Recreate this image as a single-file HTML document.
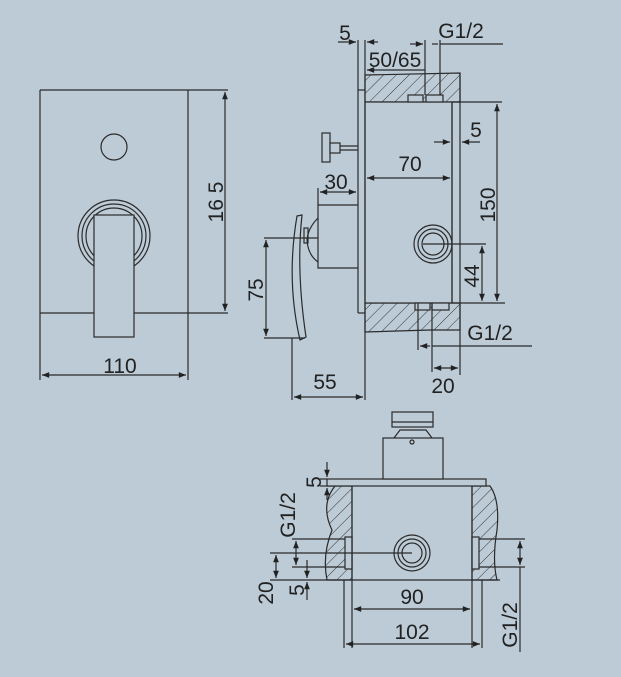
<!DOCTYPE html>
<html><head><meta charset="utf-8"><style>
html,body{margin:0;padding:0;background:#bccbd6;}
svg{display:block}
text{font-family:"Liberation Sans Narrow","Liberation Sans",sans-serif;font-size:21px;fill:#222;}
</style></head><body>
<svg width="621" height="677" viewBox="0 0 621 677" xmlns="http://www.w3.org/2000/svg">
<defs>
<marker id="a" viewBox="0 0 10 10" refX="10" refY="5" markerWidth="8" markerHeight="6" orient="auto-start-reverse"><path d="M0,1 L10,5 L0,9 z" fill="#222"/></marker>
<pattern id="h" width="9" height="9" patternUnits="userSpaceOnUse" patternTransform="rotate(45)"><line x1="0" y1="0" x2="0" y2="9" stroke="#333" stroke-width="1"/></pattern>
</defs>
<rect width="621" height="677" fill="#bccbd6"/>
<g fill="none" stroke="#2a2a2a" stroke-width="1.2">
<line x1="40" y1="90" x2="40" y2="380"/>
<line x1="188" y1="90" x2="188" y2="380"/>
<line x1="40" y1="90" x2="228" y2="90"/>
<line x1="40" y1="313" x2="94" y2="313"/>
<line x1="134" y1="313" x2="228" y2="313"/>
<circle cx="114" cy="147" r="13"/>
<circle cx="114" cy="236" r="36"/>
<circle cx="114" cy="236" r="32"/>
<circle cx="114" cy="236" r="28"/>
<rect x="94" y="215" width="40" height="122" fill="#bccbd6"/>
<line x1="225" y1="92" x2="225" y2="311" marker-start="url(#a)" marker-end="url(#a)"/>
<line x1="42" y1="375" x2="186" y2="375" marker-start="url(#a)" marker-end="url(#a)"/>

<path d="M365,75 L460,73 L460,102 L365,102 Z" fill="url(#h)"/>
<path d="M365,303 L460,303 L460,330 L430,330 L365,332 Z" fill="url(#h)"/>
<rect x="365" y="102" width="87" height="201" fill="#bccbd6"/>
<rect x="408" y="95" width="15" height="7" fill="#bccbd6"/>
<rect x="426" y="95" width="17" height="7" fill="#bccbd6"/>
<rect x="415" y="303" width="15" height="7" fill="#bccbd6"/>
<rect x="432" y="303" width="17" height="7" fill="#bccbd6"/>
<line x1="358" y1="40" x2="358" y2="313"/>
<line x1="365" y1="40" x2="365" y2="400"/>
<line x1="358" y1="313" x2="365" y2="313"/>
<line x1="358" y1="90" x2="365" y2="90"/>
<line x1="452" y1="102" x2="502" y2="102"/>
<line x1="452" y1="303" x2="505" y2="303"/>
<line x1="460" y1="73" x2="460" y2="375"/>
<line x1="452" y1="102" x2="452" y2="303"/>
<circle cx="433" cy="244" r="19"/>
<circle cx="433" cy="244" r="15"/>
<circle cx="433" cy="244" r="11"/>
<line x1="423" y1="244" x2="486" y2="244"/>
<line x1="497" y1="104" x2="497" y2="301" marker-start="url(#a)" marker-end="url(#a)"/>
<line x1="482" y1="246" x2="482" y2="301" marker-start="url(#a)" marker-end="url(#a)"/>
<line x1="367" y1="178" x2="450" y2="178" marker-start="url(#a)" marker-end="url(#a)"/>
<line x1="434" y1="142" x2="450" y2="142" marker-end="url(#a)"/>
<line x1="480" y1="142" x2="462" y2="142" marker-end="url(#a)"/>
<line x1="338" y1="42" x2="356" y2="42" marker-end="url(#a)"/>
<line x1="378" y1="42" x2="367" y2="42" marker-end="url(#a)"/>
<line x1="367" y1="70" x2="425" y2="70" marker-start="url(#a)"/>
<line x1="425" y1="40" x2="425" y2="95"/>
<line x1="440" y1="40" x2="440" y2="95"/>
<line x1="410" y1="44" x2="423" y2="44" marker-end="url(#a)"/>
<line x1="440" y1="44" x2="503" y2="44"/>
<line x1="432" y1="44" x2="438" y2="44"/>
<rect x="322" y="133" width="8" height="29" fill="#bccbd6"/>
<rect x="330" y="143" width="10" height="10" fill="#bccbd6"/>
<line x1="340" y1="146" x2="358" y2="146"/>
<line x1="340" y1="150" x2="358" y2="150"/>
<path d="M358,205 L318,205 L318,268 L358,268"/>
<path d="M318,218 Q308,228 307,240 Q308,255 318,262"/>
<rect x="304" y="228" width="4" height="15"/>
<line x1="320" y1="192" x2="356" y2="192" marker-start="url(#a)" marker-end="url(#a)"/>
<line x1="318" y1="188" x2="318" y2="205"/>
<path d="M297,216 L302,215 Q296,270 306,337 L300,340 Q286,280 297,216 Z" fill="#bccbd6"/>
<line x1="264" y1="238" x2="318" y2="238"/>
<line x1="264" y1="338" x2="305" y2="338"/>
<line x1="266" y1="240" x2="266" y2="336" marker-start="url(#a)" marker-end="url(#a)"/>
<line x1="292" y1="338" x2="292" y2="400"/>
<line x1="294" y1="397" x2="363" y2="397" marker-start="url(#a)" marker-end="url(#a)"/>
<line x1="418" y1="303" x2="418" y2="350"/>
<line x1="432" y1="303" x2="432" y2="372"/>
<line x1="420" y1="346" x2="430" y2="346" marker-start="url(#a)"/>
<line x1="432" y1="346" x2="532" y2="346"/>
<line x1="434" y1="368" x2="458" y2="368" marker-start="url(#a)" marker-end="url(#a)"/>

<path d="M327,486 L352,486 L352,580 L327,580 Q322,555 332,530 Q320,505 335,486 Z" fill="url(#h)"/>
<path d="M472,486 L490,486 Q500,500 497,530 Q492,560 497,580 L472,580 Z" fill="url(#h)"/>
<rect x="345" y="537" width="7" height="32" fill="#bccbd6"/>
<rect x="472" y="537" width="7" height="32" fill="#bccbd6"/>
<line x1="352" y1="486" x2="352" y2="648"/>
<line x1="472" y1="486" x2="472" y2="648"/>
<line x1="344" y1="580" x2="344" y2="648"/>
<line x1="482" y1="580" x2="482" y2="648"/>
<line x1="270" y1="580" x2="500" y2="580"/>
<rect x="327" y="479" width="159" height="7" fill="#bccbd6"/>
<rect x="383" y="438" width="60" height="41" fill="#bccbd6"/>
<path d="M394,438 L400,430 L426,430 L432,438"/>
<rect x="392" y="412" width="41" height="15" fill="#bccbd6"/>
<line x1="392" y1="422" x2="433" y2="422"/>
<circle cx="412" cy="442" r="2"/>
<circle cx="412" cy="553" r="18"/>
<circle cx="412" cy="553" r="14"/>
<circle cx="412" cy="553" r="10"/>
<line x1="270" y1="553" x2="412" y2="553"/>
<line x1="292" y1="539" x2="345" y2="539"/>
<line x1="292" y1="567" x2="345" y2="567"/>
<line x1="479" y1="539" x2="525" y2="539"/>
<line x1="479" y1="567" x2="525" y2="567"/>
<line x1="320" y1="479" x2="327" y2="479"/>
<line x1="320" y1="486" x2="327" y2="486"/>
<line x1="327" y1="462" x2="327" y2="477" marker-end="url(#a)"/>
<line x1="327" y1="500" x2="327" y2="488" marker-end="url(#a)"/>
<line x1="296" y1="541" x2="296" y2="565" marker-start="url(#a)" marker-end="url(#a)"/>
<line x1="276" y1="555" x2="276" y2="578" marker-start="url(#a)" marker-end="url(#a)"/>
<line x1="307" y1="560" x2="307" y2="578" marker-end="url(#a)"/>
<line x1="307" y1="600" x2="307" y2="582" marker-end="url(#a)"/>
<line x1="520" y1="541" x2="520" y2="565" marker-start="url(#a)" marker-end="url(#a)"/>
<line x1="520" y1="567" x2="520" y2="652"/>
<line x1="354" y1="609" x2="470" y2="609" marker-start="url(#a)" marker-end="url(#a)"/>
<line x1="346" y1="644" x2="480" y2="644" marker-start="url(#a)" marker-end="url(#a)"/>
</g>
<text x="120" y="373" text-anchor="middle">110</text>
<text transform="translate(223,202) rotate(-90)" text-anchor="middle">16 5</text>
<text x="345" y="40" text-anchor="middle">5</text>
<text x="395" y="67" text-anchor="middle">50/65</text>
<text x="461" y="38" text-anchor="middle">G1/2</text>
<text x="476" y="137" text-anchor="middle">5</text>
<text x="410" y="171" text-anchor="middle">70</text>
<text x="336" y="189" text-anchor="middle">30</text>
<text transform="translate(495,205) rotate(-90)" text-anchor="middle">150</text>
<text transform="translate(479,276) rotate(-90)" text-anchor="middle">44</text>
<text transform="translate(263,290) rotate(-90)" text-anchor="middle">75</text>
<text x="490" y="340" text-anchor="middle">G1/2</text>
<text x="443" y="393" text-anchor="middle">20</text>
<text x="325" y="389" text-anchor="middle">55</text>
<text transform="translate(321,482) rotate(-90)" text-anchor="middle">5</text>
<text transform="translate(295,515) rotate(-90)" text-anchor="middle">G1/2</text>
<text transform="translate(273,593) rotate(-90)" text-anchor="middle">20</text>
<text transform="translate(304,590) rotate(-90)" text-anchor="middle">5</text>
<text x="412" y="604" text-anchor="middle">90</text>
<text x="412" y="639" text-anchor="middle">102</text>
<text transform="translate(517,625) rotate(-90)" text-anchor="middle">G1/2</text>
</svg>
</body></html>
